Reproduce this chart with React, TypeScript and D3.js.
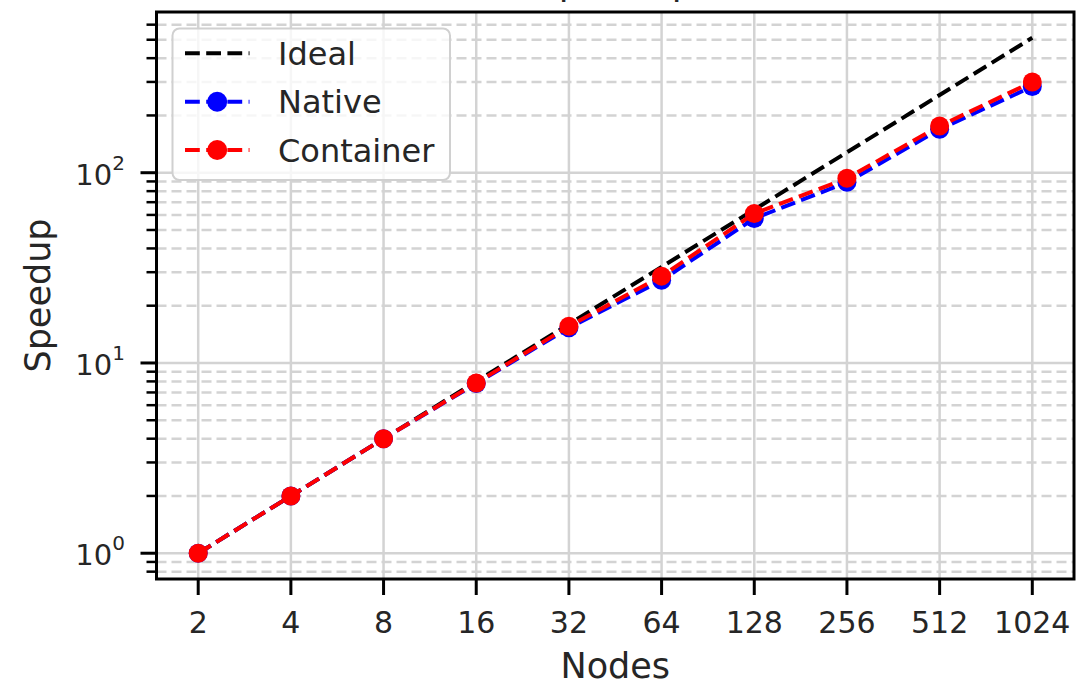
import React from "react";
import * as d3 from "d3";

// Node counts on the x axis and the speedup series
const nodes = [2, 4, 8, 16, 32, 64, 128, 256, 512, 1024];
const ideal = [1, 2, 4, 8, 16, 32, 64, 128, 256, 512];
const native = [1, 2, 4, 7.8, 15.3, 27.2, 57.5, 89, 169, 284];
const container = [1, 2, 4, 7.85, 15.6, 28.6, 61, 93.5, 176, 300];
const xTickLabels = ["2", "4", "8", "16", "32", "64", "128", "256", "512", "1024"];
const yMajorTicks = [1, 10, 100];
const yTickExponents = ["0", "1", "2"];
const seriesNames = ["Ideal", "Native", "Container"];

const W = 1076;
const H = 680;
const left = 156.5;
const right = 1074;
const top = 12;
const bottom = 579;

const FONT = "'DejaVu Sans', sans-serif";
const TEXT = "#262626";
const GRID = "#d3d3d3";

export default function App() {
  // log2 x with 5% margins, log10 y with 5% margins
  const lx0 = Math.log2(nodes[0]);
  const lx1 = Math.log2(nodes[nodes.length - 1]);
  const mx = (lx1 - lx0) * 0.05;
  const x = d3
    .scaleLog()
    .base(2)
    .domain([2 ** (lx0 - mx), 2 ** (lx1 + mx)])
    .range([left, right]);

  const allY = [...ideal, ...native, ...container];
  const ly0 = Math.log10(d3.min(allY) as number);
  const ly1 = Math.log10(d3.max(allY) as number);
  const my = (ly1 - ly0) * 0.05;
  const y = d3
    .scaleLog()
    .domain([10 ** (ly0 - my), 10 ** (ly1 + my)])
    .range([bottom, top]);

  const [yMin, yMax] = y.domain();
  const minorY: number[] = [];
  for (let e = Math.floor(Math.log10(yMin)); e <= Math.ceil(Math.log10(yMax)); e++) {
    for (let k = 2; k <= 9; k++) {
      const v = k * 10 ** e;
      if (v >= yMin && v <= yMax) minorY.push(v);
    }
  }

  const line = d3
    .line<number>()
    .x((_, i) => x(nodes[i]))
    .y((d) => y(d));

  const dash = "14.8 6.4";
  const lw = 4;

  const series = [
    { name: seriesNames[0], values: ideal, color: "#000000", marker: false },
    { name: seriesNames[1], values: native, color: "#0000ff", marker: true },
    { name: seriesNames[2], values: container, color: "#ff0000", marker: true },
  ];

  const legendX = 172.5;
  const legendY = 28.5;
  const legendRows = [53.3, 101.7, 150];

  return (
    <svg
      width={W}
      height={H}
      style={{ position: "absolute", left: 0, top: 0, background: "#fff" }}
      fontFamily={FONT}
    >
      <defs>
        <clipPath id="plot">
          <rect x={left} y={top} width={right - left} height={bottom - top} />
        </clipPath>
      </defs>

      {/* title, mostly above the visible area */}
      <text x={(left + right) / 2} y={-5} textAnchor="middle" fontSize={36} fill={TEXT}>
        Speedup
      </text>

      {/* grid */}
      <g>
        {minorY.map((v) => (
          <line
            key={"gm" + v}
            x1={left}
            x2={right}
            y1={y(v)}
            y2={y(v)}
            stroke={GRID}
            strokeWidth={2.5}
            strokeDasharray="10 5"
          />
        ))}
        {yMajorTicks.map((v) => (
          <line key={"gy" + v} x1={left} x2={right} y1={y(v)} y2={y(v)} stroke={GRID} strokeWidth={2.5} />
        ))}
        {nodes.map((n) => (
          <line key={"gx" + n} x1={x(n)} x2={x(n)} y1={top} y2={bottom} stroke={GRID} strokeWidth={2.5} />
        ))}
      </g>

      {/* series */}
      <g clipPath="url(#plot)">
        {series.map((s) => (
          <g key={s.name}>
            <path
              d={line(s.values) || ""}
              fill="none"
              stroke={s.color}
              strokeWidth={lw}
              strokeDasharray={dash}
            />
            {s.marker &&
              s.values.map((v, i) => (
                <circle key={i} cx={x(nodes[i])} cy={y(v)} r={9.5} fill={s.color} />
              ))}
          </g>
        ))}
      </g>

      {/* frame */}
      <rect x={left} y={top} width={right - left} height={bottom - top} fill="none" stroke="#000" strokeWidth={3} />

      {/* x ticks */}
      {nodes.map((n, i) => (
        <g key={"xt" + n}>
          <line x1={x(n)} x2={x(n)} y1={bottom} y2={bottom + 16} stroke="#000" strokeWidth={3} />
          <text x={x(n)} y={633} textAnchor="middle" fontSize={30} fill={TEXT}>
            {xTickLabels[i]}
          </text>
        </g>
      ))}

      {/* y ticks */}
      {minorY.map((v) => (
        <line key={"ym" + v} x1={left - 10} x2={left} y1={y(v)} y2={y(v)} stroke="#000" strokeWidth={2.5} />
      ))}
      {yMajorTicks.map((v, i) => (
        <g key={"yt" + v}>
          <line x1={left - 16} x2={left} y1={y(v)} y2={y(v)} stroke="#000" strokeWidth={3} />
          <text x={125} y={y(v) + 12} textAnchor="end" fontSize={29} fill={TEXT}>
            10
            <tspan dy={-15} fontSize={20}>
              {yTickExponents[i]}
            </tspan>
          </text>
        </g>
      ))}

      {/* axis labels */}
      <text x={(left + right) / 2} y={678} textAnchor="middle" fontSize={35} fill={TEXT}>
        Nodes
      </text>
      <text
        transform={`translate(50, ${(top + bottom) / 2}) rotate(-90)`}
        textAnchor="middle"
        fontSize={35}
        fill={TEXT}
      >
        Speedup
      </text>

      {/* legend */}
      <rect
        x={legendX}
        y={legendY}
        width={277.5}
        height={151.5}
        rx={7}
        fill="#fff"
        fillOpacity={0.8}
        stroke="#d0d0d0"
        strokeWidth={2}
      />
      {series.map((s, i) => (
        <g key={"lg" + s.name}>
          <line
            x1={185}
            x2={249.5}
            y1={legendRows[i]}
            y2={legendRows[i]}
            stroke={s.color}
            strokeWidth={lw}
            strokeDasharray={dash}
          />
          {s.marker && <circle cx={217.2} cy={legendRows[i]} r={10} fill={s.color} />}
          <text x={278} y={legendRows[i] + 11.7} fontSize={32} fill={TEXT}>
            {s.name}
          </text>
        </g>
      ))}
    </svg>
  );
}
